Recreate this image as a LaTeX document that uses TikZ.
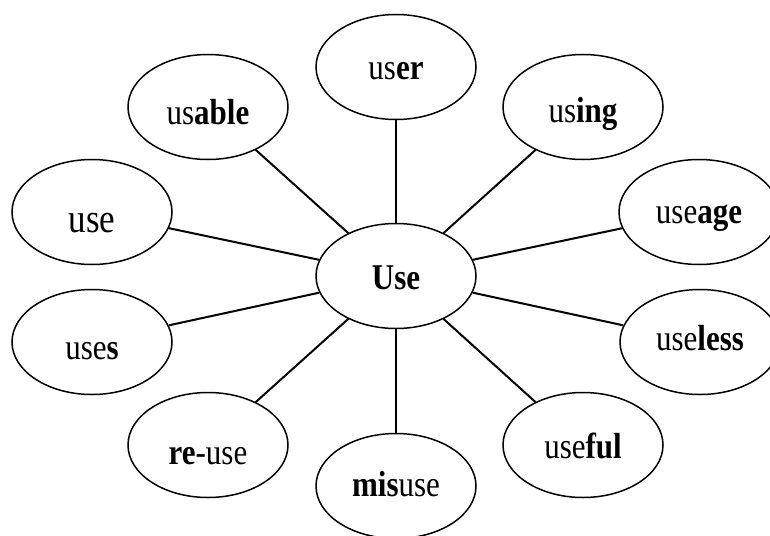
\documentclass[tikz,border=0pt]{standalone}
\usepackage{fontspec}
\setmainfont{Liberation Serif}
\usetikzlibrary{shapes.geometric}
\newcommand{\lbl}[3][31]{\fontsize{#1}{#1}\selectfont\smash{\raisebox{-#2pt}{\scalebox{1}[1.17]{#3}}}}
\tikzset{
  bubble/.style={ellipse, draw, line width=1.5pt, minimum width=160pt, minimum height=105pt, inner sep=0pt},
  link/.style={line width=2pt}
}
\begin{document}
\begin{tikzpicture}[x=1pt,y=-1pt]
\useasboundingbox (0,0) rectangle (770,535);
\clip (0,0) rectangle (770,535);
\node[bubble] (c) at (396,276) {\lbl{13}{\textbf{Use}}};
\node[bubble] (user) at (396,67) {\lbl{13}{us\textbf{er}}};
\node[bubble] (usable) at (208,107) {\lbl{17}{us\textbf{able}}};
\node[bubble] (using) at (583,107) {\lbl{15}{us\textbf{ing}}};
\node[bubble] (use) at (92,212) {\lbl[35]{20}{use}};
\node[bubble] (useage) at (699,212) {\lbl{11}{use\textbf{age}}};
\node[bubble] (uses) at (92,342) {\lbl{17}{use\textbf{s}}};
\node[bubble] (useless) at (700,342) {\lbl{8}{use\textbf{less}}};
\node[bubble] (reuse) at (208,445) {\lbl{19}{\textbf{re}-use}};
\node[bubble] (useful) at (583,445) {\lbl{13}{use\textbf{ful}}};
\node[bubble] (misuse) at (396,486) {\lbl{10}{\textbf{mis}use}};
\foreach \n in {user,usable,using,use,useage,uses,useless,reuse,useful,misuse}
  \draw[link] (c) -- (\n);
\end{tikzpicture}
\end{document}
